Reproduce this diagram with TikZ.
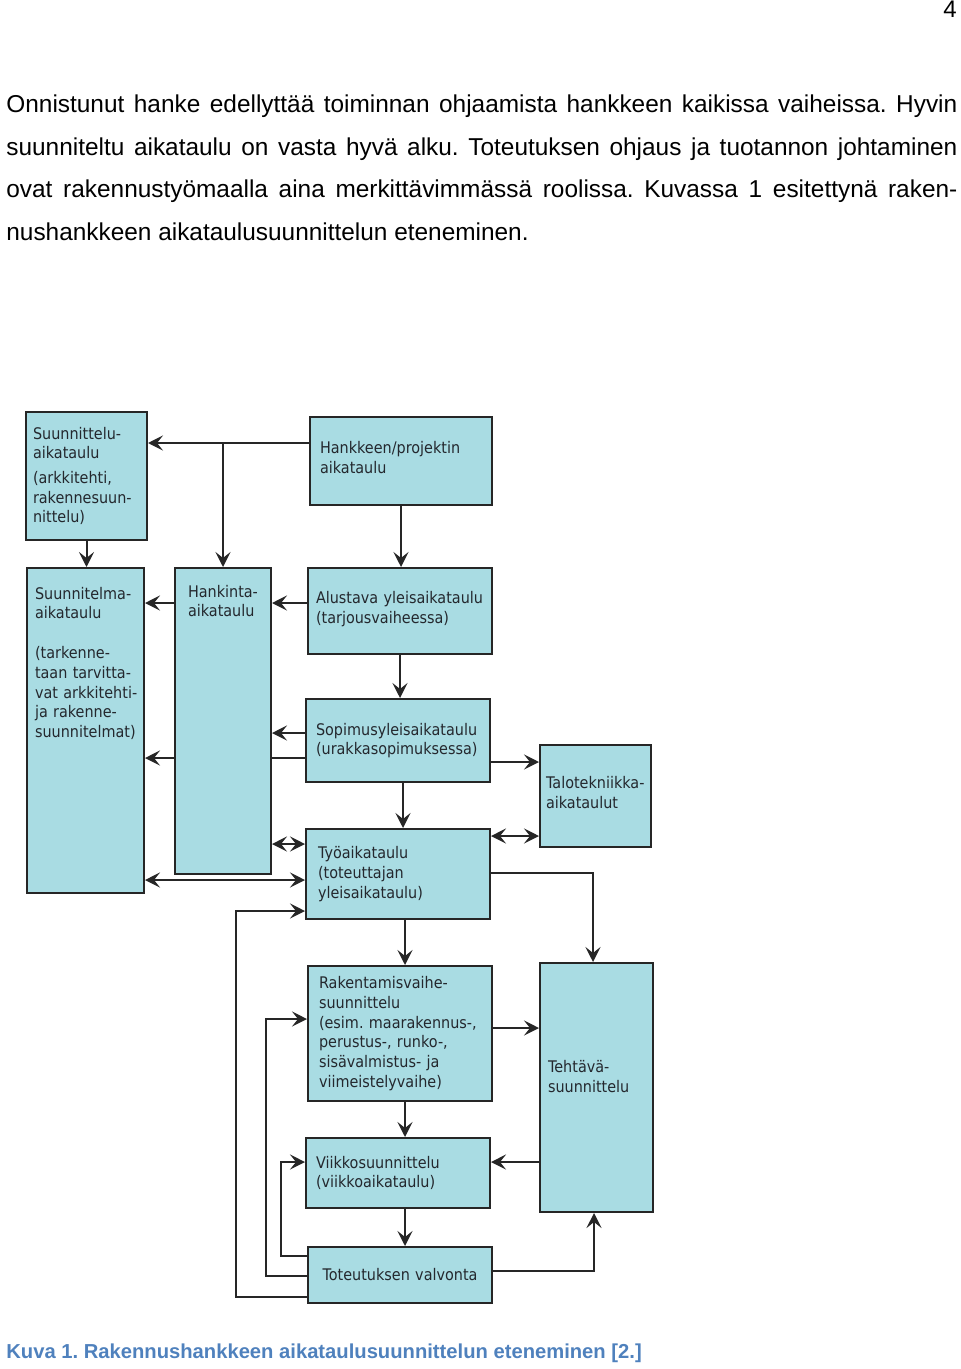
\documentclass[tikz,border=0pt]{standalone}
\usepackage{fontspec}
\setmainfont{Liberation Sans}
\newfontfamily\boxfont{DejaVu Sans}[FakeStretch=0.9]
\usetikzlibrary{arrows.meta,backgrounds}
\frenchspacing

\definecolor{boxfill}{RGB}{169,220,227}
\definecolor{boxline}{RGB}{38,38,38}
\definecolor{boxtext}{RGB}{36,40,46}
\definecolor{capblue}{RGB}{79,129,189}

\tikzset{
  box/.style={draw=boxline, line width=1pt, fill=boxfill, text=boxtext,
    align=left, inner xsep=5pt, inner ysep=2pt,
    font={\boxfont\fontsize{8pt}{9.9pt}\selectfont}},
  arr/.style={line width=1pt, draw=boxline,
    -{Stealth[length=7.5pt,width=7.5pt,inset=3pt]}},
  arrtwo/.style={line width=1pt, draw=boxline,
    {Stealth[length=7.5pt,width=7.5pt,inset=3pt]}-{Stealth[length=7.5pt,width=7.5pt,inset=3pt]}}
}

\begin{document}
\begin{tikzpicture}[x=0.5pt,y=-0.5pt]
	\useasboundingbox (0,0) rectangle (960,1369);
	% page text
	\node[anchor=base east, inner sep=0, font=\fontsize{12pt}{14pt}\selectfont] (pageno) at (957,18) {4};
	\node[anchor=base west, inner sep=0, text width=475.5pt, align=justify,
	  font=\fontsize{12.2pt}{21.25pt}\selectfont] (intro) at (6,113)
	  {\hyphenpenalty=10000\relax
	   Onnistunut hanke edellyttää toiminnan ohjaamista hankkeen kaikissa vaiheissa. Hyvin\linebreak
	   suunniteltu aikataulu on vasta hyvä alku. Toteutuksen ohjaus ja tuotannon johtaminen\linebreak
	   ovat rakennustyömaalla aina merkittävimmässä roolissa. Kuvassa 1 esitettynä raken-\linebreak
	   nushankkeen aikataulusuunnittelun eteneminen.};

	% boxes
	\node[box, minimum width=60.5pt, minimum height=64pt, inner xsep=3.5pt, text width=53.5pt] (plan) at (86.5,476)
	  {Suunnittelu-\\aikataulu\\[2.3pt](arkkitehti,\\rakennesuun-\\nittelu)};
	\node[box, minimum width=91pt, minimum height=44pt, text width=81pt] (proj) at (401,461)
	  {Hankkeen/projektin\\aikataulu\\[-6.5pt]\mbox{}};
	\node[box, minimum width=58.5pt, minimum height=162.5pt, inner xsep=4pt, inner ysep=0pt, text width=50.5pt] (design) at (85.5,730.5)
	  {\parbox[c][162.5pt][t]{50.5pt}{\vspace*{9.5pt}Suunnitelma-\\aikataulu\\[9.9pt](tarkenne-\\taan tarvitta-\\\mbox{vat arkkitehti-}\\ja rakenne-\\suunnitelmat)}};
	\node[box, minimum width=48pt, minimum height=153pt, inner xsep=6.5pt, inner ysep=0pt, text width=35pt] (procure) at (223,721)
	  {\parbox[c][153pt][t]{35pt}{\vspace*{8.5pt}Hankinta-\\aikataulu}};
	\node[box, minimum width=92pt, minimum height=43pt, inner xsep=4pt, text width=84pt] (prelim) at (400,611)
	  {\mbox{Alustava yleisaikataulu}\\(tarjousvaiheessa)\\[-6.5pt]\mbox{}};
	\node[box, minimum width=92pt, minimum height=41.5pt, text width=82pt] (contract) at (398,740.5)
	  {Sopimusyleisaikataulu\\(urakkasopimuksessa)};
	\node[box, minimum width=55.5pt, minimum height=51pt, inner xsep=3pt, text width=49.5pt] (mep) at (595.5,796)
	  {Talotekniikka-\\aikataulut\\[-6.5pt]\mbox{}};
	\node[box, minimum width=92pt, minimum height=45pt, inner xsep=6pt, text width=80pt] (work) at (398,874)
	  {Työaikataulu\\(toteuttajan\\yleisaikataulu)};
	\node[box, minimum width=92pt, minimum height=67.5pt, inner xsep=5.5pt, text width=81pt] (phase) at (400,1033.5)
	  {Rakentamisvaihe-\\suunnittelu\\\mbox{(esim. maarakennus-,}\\perustus-, runko-,\\sisävalmistus- ja\\viimeistelyvaihe)};
	\node[box, minimum width=56.5pt, minimum height=124.5pt, inner xsep=4pt, text width=48.5pt] (task) at (596.5,1087.5)
	  {Tehtävä-\\suunnittelu\\[1.5pt]\mbox{}};
	\node[box, minimum width=92pt, minimum height=35pt, text width=82pt] (week) at (398,1173)
	  {Viikkosuunnittelu\\(viikkoaikataulu)};
	\node[box, minimum width=92pt, minimum height=28pt, text width=82pt, align=center] (control) at (400,1275)
	  {Toteutuksen valvonta};

	% connectors
	\begin{scope}[on background layer]
	\coordinate (split) at (223,443);
	\draw[arr] (proj.west |- 0,443) -- (plan.east |- 0,443);
	\draw[arr] (split) -- (procure.north);
	\draw[arr] (plan.south) -- (plan.south |- design.north);
	\draw[arr] (proj.south) -- (proj.south |- prelim.north);
	\draw[arr] (procure.west |- 0,603) -- (design.east |- 0,603);
	\draw[arr] (prelim.west |- 0,603) -- (procure.east |- 0,603);
	\draw[arr] (prelim.south) -- (prelim.south |- contract.north);
	\draw[arr] (contract.west |- 0,733) -- (procure.east |- 0,733);
	\draw[arr] (contract.west |- 0,758) -- (design.east |- 0,758);
	\draw[arr] (contract.east |- 0,762) -- (mep.west |- 0,762);
	\draw[arr] (contract.south -| 403,0) -- (work.north -| 403,0);
	\draw[arrtwo] (work.east |- 0,836) -- (mep.west |- 0,836);
	\draw[arrtwo] (work.west |- 0,844) -- (procure.east |- 0,844);
	\draw[arrtwo] (work.west |- 0,880) -- (design.east |- 0,880);
	\draw[arr] (work.east |- 0,873) -| (task.north -| 593,0);
	\draw[arr] (work.south -| 405,0) -- (phase.north -| 405,0);
	\draw[arr] (phase.east |- 0,1028) -- (task.west |- 0,1028);
	\draw[arr] (phase.south -| 405,0) -- (week.north -| 405,0);
	\draw[arr] (task.west |- 0,1162) -- (week.east |- 0,1162);
	\draw[arr] (week.south -| 405,0) -- (control.north -| 405,0);
	\draw[arr] (control.east |- 0,1271) -| (task.south -| 594,0);
	\draw[arr] (control.west |- 0,1297) -- (236,1297) |- (work.west |- 0,911);
	\draw[arr] (control.west |- 0,1276) -- (266,1276) |- (phase.west |- 0,1019);
	\draw[arr] (control.west |- 0,1256) -- (281,1256) |- (week.west |- 0,1162);
	\end{scope}

	% caption
	\node[anchor=base west, inner sep=0, text=capblue, font=\bfseries\fontsize{10.1pt}{12pt}\selectfont] (caption) at (6,1358)
	  {Kuva 1. Rakennushankkeen aikataulusuunnittelun eteneminen [2.]};
\end{tikzpicture}
\end{document}
